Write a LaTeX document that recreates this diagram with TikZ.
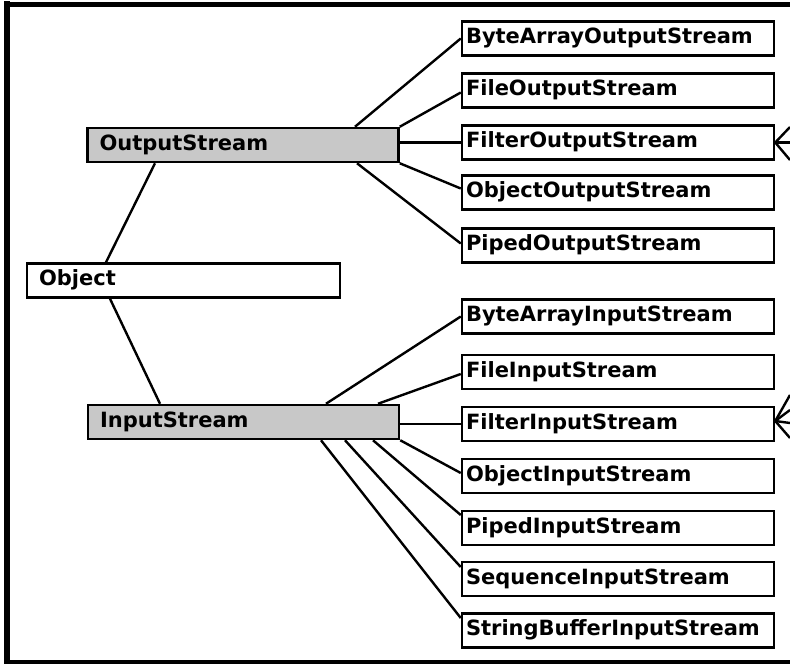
\documentclass[tikz,border=0pt]{standalone}
\usepackage{fontspec}
\setmainfont{DejaVu Sans}
\usetikzlibrary{calc}
\definecolor{boxgray}{RGB}{200,200,200}
\begin{document}
\begin{tikzpicture}[x=1pt,y=-1pt,
  box/.style={draw=black,line width=2.5pt,rectangle,minimum height=34pt,inner xsep=4pt,inner ysep=0pt,
    text width=304pt,align=left,font=\bfseries\fontsize{21}{25}\selectfont,text height=15.5pt,text depth=5pt},
  basebox/.style={box,fill=boxgray,text width=287pt,inner xsep=12pt},
  conn/.style={line width=2.4pt},
  frame/.style={black}]
\useasboundingbox (0,0) rectangle (790,665);
\fill[white] (0,0) rectangle (790,665);
% frame
\draw[frame,line width=6pt] (7,1) -- (7,664);
\draw[frame,line width=5pt] (4,4.5) -- (790,4.5);
\draw[frame,line width=4pt] (4,662) -- (790,662);
% base classes
\node[basebox,fill=white,text width=289pt] (obj) at (183.5,280.5) {Object};
\node[basebox] (out) at (243,145) {OutputStream};
\node[basebox] (in) at (243.5,422) {InputStream};
% output subclasses
\node[box] (BAOS) at (618,38.5) {ByteArrayOutputStream};
\node[box] (FOS) at (618,90.5) {FileOutputStream};
\node[box] (FiOS) at (618,142.5) {FilterOutputStream};
\node[box] (OOS) at (618,192.5) {ObjectOutputStream};
\node[box] (POS) at (618,245.5) {PipedOutputStream};
% input subclasses
\node[box] (BAIS) at (618,316.5) {ByteArrayInputStream};
\node[box] (FIS) at (618,372) {FileInputStream};
\node[box] (FiIS) at (618,424) {FilterInputStream};
\node[box] (OIS) at (618,476) {ObjectInputStream};
\node[box] (PIS) at (618,528) {PipedInputStream};
\node[box] (SIS) at (618,579) {SequenceInputStream};
\node[box] (SBIS) at (618,630.5) {StringBufferInputStream};
% connectors
\draw[conn] ($(out.south)+(-88,0)$) -- ($(obj.north)+(-77.5,0)$);
\draw[conn] ($(obj.south)+(-73.5,0)$) -- ($(in.north)+(-83.5,0)$);
\draw[conn] ($(out.north)+(112,0)$) -- (BAOS.west);
\draw[conn] (out.north east) -- ($(FOS.west)+(0,2)$);
\draw[conn] (out.east |- FiOS.west) -- (FiOS.west);
\draw[conn] (out.south east) -- ($(OOS.west)+(0,-4)$);
\draw[conn] ($(out.south)+(114,0)$) -- ($(POS.west)+(0,-2)$);
\draw[conn] ($(in.north)+(82.5,0)$) -- (BAIS.west);
\draw[conn] ($(in.north)+(134.5,0)$) -- ($(FIS.west)+(0,2)$);
\draw[conn] (in.east |- FiIS.west) -- (FiIS.west);
\draw[conn] (in.south east) -- ($(OIS.west)+(0,-3)$);
\draw[conn] ($(in.south)+(129.5,0)$) -- ($(PIS.west)+(0,-13)$);
\draw[conn] ($(in.south)+(101.5,0)$) -- ($(SIS.west)+(0,-12)$);
\draw[conn] ($(in.south)+(77.5,0)$) -- ($(SBIS.west)+(0,-12.5)$);
% stubs leaving the picture
\coordinate (o1) at (790,127);
\coordinate (o2) at (790,142.5);
\coordinate (o3) at (790,160);
\coordinate (i1) at (790,395);
\coordinate (i2) at (790,410);
\coordinate (i3) at (790,423);
\coordinate (i4) at (790,438);
\foreach \t in {o1,o2,o3} \draw[conn] (FiOS.east) -- (\t);
\foreach \t in {i1,i2,i3,i4} \draw[conn] ($(FiIS.east)+(0,-3)$) -- (\t);
\end{tikzpicture}
\end{document}
